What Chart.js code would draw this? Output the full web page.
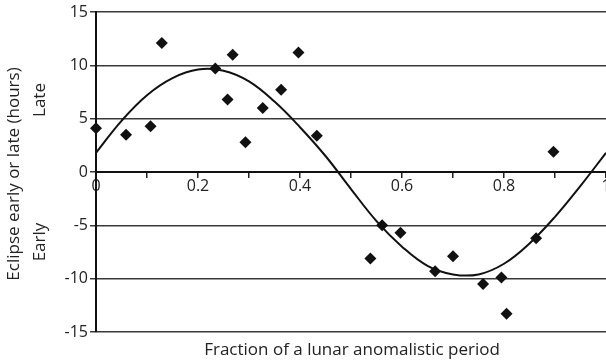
<!DOCTYPE html>
<html lang="en">
<head>
  <meta charset="UTF-8" />
  <title>Eclipse timing vs lunar anomalistic period</title>
  <script src="https://cdn.jsdelivr.net/npm/chart.js"></script>
  <style>
    html, body { margin: 0; padding: 0; background: #fff; }
    .chart-container { position: relative; width: 606px; height: 363px; }
  </style>
</head>
<body>
  <div class="chart-container">
    <canvas id="eclipseChart"></canvas>
  </div>

  <script>
    // Observed eclipses: fraction of anomalistic period vs hours early/late
    const obsX = [
      0.000, 0.059, 0.107, 0.129, 0.234, 0.258, 0.268, 0.293, 0.327, 0.363, 0.397,
      0.433, 0.538, 0.561, 0.597, 0.665, 0.700, 0.759, 0.795, 0.805, 0.863, 0.897
    ];
    const obsY = [
      4.1, 3.5, 4.3, 12.1, 9.7, 6.8, 11.0, 2.8, 6.0, 7.7, 11.2,
      3.4, -8.1, -5.0, -5.7, -9.3, -7.9, -10.5, -9.9, -13.3, -6.2, 1.9
    ];

    // Fitted curve at steps of 0.05
    const fitX = [
      0, 0.05, 0.1, 0.15, 0.2, 0.25, 0.3, 0.35, 0.4, 0.45, 0.5,
      0.55, 0.6, 0.65, 0.7, 0.75, 0.8, 0.85, 0.9, 0.95, 1
    ];
    const fitY = [
      1.8, 4.8, 7.2, 8.8, 9.6, 9.5, 8.5, 6.6, 4.2, 1.5, -1.6,
      -4.6, -7.0, -8.8, -9.6, -9.6, -8.6, -6.7, -4.2, -1.3, 1.8
    ];

    const yTicks = [-15, -10, -5, 0, 5, 10, 15];
    const xTickLabels = ["0", "0.2", "0.4", "0.6", "0.8", "1"];

    const points = obsX.map((x, i) => ({ x: x, y: obsY[i] }));
    const curve = fitX.map((x, i) => ({ x: x, y: fitY[i] }));

    const font = "'Open Sans', 'Liberation Sans', sans-serif";
    const ink = "#222";

    // axis titles drawn by hand so the two-line y title can be split
    const titlesPlugin = {
      id: "titles",
      afterDraw(chart) {
        const c = chart.ctx;
        c.save();
        c.fillStyle = ink;
        c.font = "17px " + font;
        c.textAlign = "center";
        c.textBaseline = "middle";
        c.fillText("Fraction of a lunar anomalistic period", 352, 350);
        c.translate(14, 174);
        c.rotate(-Math.PI / 2);
        c.fillText("Eclipse early or late (hours)", 0, 0);
        c.fillText("Late", 74, 26);
        c.fillText("Early", -68, 26);
        c.restore();
      }
    };

    new Chart(document.getElementById("eclipseChart"), {
      type: "scatter",
      data: {
        datasets: [
          {
            label: "Fit",
            type: "line",
            data: curve,
            borderColor: "#111",
            borderWidth: 2,
            pointRadius: 0,
            fill: false,
            tension: 0.4
          },
          {
            label: "Eclipses",
            data: points,
            pointStyle: "rectRot",
            pointRadius: 6,
            backgroundColor: "#111",
            borderColor: "#111",
            borderWidth: 0,
            clip: false
          }
        ]
      },
      options: {
        responsive: true,
        maintainAspectRatio: false,
        animation: false,
        layout: { autoPadding: false, padding: { top: 12, bottom: 31, left: 0, right: 0 } },
        plugins: {
          legend: { display: false },
          tooltip: { enabled: false }
        },
        scales: {
          x: {
            type: "linear",
            position: { y: 0 },
            min: 0,
            max: 1,
            ticks: {
              stepSize: 0.1,
              color: ink,
              font: { family: font, size: 16 },
              maxRotation: 0,
              padding: 0,
              callback: (v) => {
                const k = Math.round(v * 10);
                return k % 2 === 0 ? xTickLabels[k / 2] : "";
              }
            },
            grid: { drawOnChartArea: false, tickLength: 5, color: "#222", lineWidth: 1.5 },
            border: { color: "#111", width: 2 },
            afterFit: (s) => {
              s.height = 0;
              s.paddingLeft = 0;
              s.paddingRight = 0;
            }
          },
          y: {
            type: "linear",
            min: -15,
            max: 15,
            afterBuildTicks: (s) => { s.ticks = yTicks.map((v) => ({ value: v })); },
            ticks: {
              color: ink,
              font: { family: font, size: 16 },
              padding: 2
            },
            grid: { color: "#3a3a3a", lineWidth: 1.5, tickLength: 6 },
            border: { color: "#111", width: 2 },
            afterFit: (s) => {
              s.width = 96;
              s.paddingTop = 0;
              s.paddingBottom = 0;
            }
          }
        }
      },
      plugins: [titlesPlugin]
    });
  </script>
</body>
</html>
